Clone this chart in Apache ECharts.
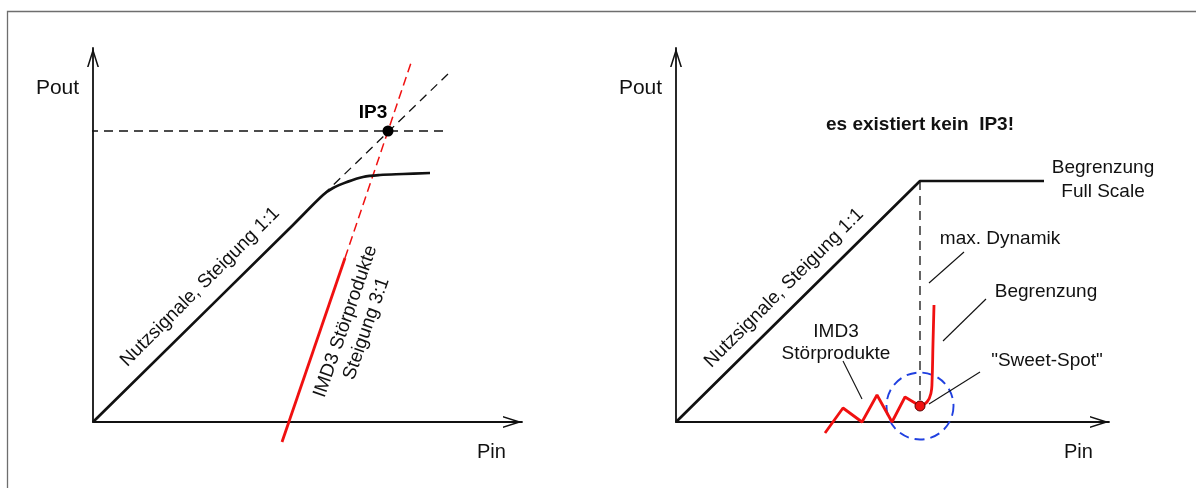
<!DOCTYPE html>
<html><head><meta charset="utf-8">
<script src="https://cdn.jsdelivr.net/npm/echarts@6/dist/echarts.min.js"></script>
<style>html,body{margin:0;padding:0;background:#fff}#c{width:1196px;height:488px}</style>
</head><body><div id="c"></div>
<script>
// ---------- data (arbitrary level units: Pin / Pout) ----------
// Left panel: IP3 construction
const leftSignal      = [[0,0],[20,19.7],[23,22.7],[24,23.4],[25.4,24.0],[27,24.5],[28.7,24.7],[31,24.8],[33.7,24.9]];
const leftSignalExt   = [[23,22.7],[35.7,35.0]];
const leftIp3Level    = [[-1.9,29.1],[35.0,29.1]];
const leftImdSolid    = [[18.9,-2.0],[25.2,16.4]];
const leftImdDashed   = [[25.2,16.4],[31.9,36.2]];
const leftIp3Point    = [[29.5,29.1]];
// Right panel: no IP3
const rightSignal     = [[0,0],[24.4,24.1],[36.8,24.1]];
const rightMaxDyn     = [[24.4,24.1],[24.4,1.6]];
const rightImdZigzag  = [[14.9,-1.1],[16.7,1.4],[18.6,0],[20.1,2.7],[21.6,0],[22.9,2.5],[24.4,1.6]];
const rightImdLimit   = [[24.4,1.6],[25.1,2.0],[25.5,2.9],[25.6,3.9],[25.7,7.9],[25.8,11.7]];
const rightSweetSpot  = [[24.4,1.6]];
const pointerMaxDyn   = [[25.3,13.9],[28.8,17.0]];
const pointerLimit    = [[26.7,8.1],[31.0,12.3]];
const pointerSweet    = [[25.3,1.8],[30.4,5.0]];
const pointerImd      = [[16.7,6.1],[18.6,2.3]];
const axisNames = {x: 'Pin', y: 'Pout'};

// ---------- chart ----------
const FONT = '"Liberation Sans", Arial, Helvetica, sans-serif';
const INK = '#111';
const RED = '#f01010';
const BLUE = '#2040e0';
const ARROW = 'path://M0,19 L6,0 L12,19 L10.4,19 L6,5.1 L1.6,19 Z';

function xAx(max, gi) {
  return {
    type: 'value', gridIndex: gi, min: 0, max: max,
    name: axisNames.x, nameLocation: 'end', nameGap: -45,
    nameTextStyle: {fontSize: 20, color: INK, fontFamily: FONT, verticalAlign: 'top', lineHeight: 60},
    axisLine: {show: true, onZero: false, symbol: ['none', ARROW], symbolSize: [12, 19], symbolOffset: [0, -9.5],
      lineStyle: {color: INK, width: 1.8}},
    axisTick: {show: false}, axisLabel: {show: false}, splitLine: {show: false}
  };
}
function yAx(max, gi) {
  return {
    type: 'value', gridIndex: gi, min: 0, max: max,
    name: axisNames.y, nameLocation: 'end', nameGap: -51,
    nameTextStyle: {fontSize: 21, color: INK, fontFamily: FONT, padding: [0, 71, 0, 0]},
    axisLine: {show: true, onZero: false, symbol: ['none', ARROW], symbolSize: [12, 19], symbolOffset: [0, -9.5],
      lineStyle: {color: INK, width: 1.8}},
    axisTick: {show: false}, axisLabel: {show: false}, splitLine: {show: false}
  };
}
function line(data, gi, color, width, type, smooth, z) {
  return {
    type: 'line', xAxisIndex: gi, yAxisIndex: gi, data: data, showSymbol: false, symbol: 'none',
    clip: false, smooth: smooth || false, z: z || 2, silent: true,
    lineStyle: {color: color, width: width, type: type || 'solid', opacity: 1}
  };
}

const chart = echarts.init(document.getElementById('c'), null, {renderer: 'canvas'});
const txt = (text, x, y, opts) => Object.assign({
  type: 'text', x: x, y: y, z: 50,
  style: Object.assign({text: text, x: 0, y: 0, fill: INK, fontSize: 19, fontFamily: FONT,
    align: 'center', verticalAlign: 'middle', textAlign: 'center', textVerticalAlign: 'middle', lineHeight: 22}, opts && opts.style)
}, opts && opts.el);

chart.setOption({
  animation: false,
  backgroundColor: '#fff',
  grid: [
    {left: 93, top: 48, width: 429, height: 374, containLabel: false},
    {left: 676, top: 48, width: 433, height: 374, containLabel: false}
  ],
  xAxis: [xAx(42.9, 0), xAx(43.3, 1)],
  yAxis: [yAx(37.4, 0), yAx(37.4, 1)],
  series: [
    // left
    line(leftIp3Level, 0, INK, 1.3, [9, 6]),
    line(leftSignalExt, 0, INK, 1.3, [9, 6]),
    line(leftSignal, 0, INK, 2.7, 'solid', 0.35, 4),
    line(leftImdDashed, 0, RED, 1.5, [9, 5]),
    line(leftImdSolid, 0, RED, 2.8, 'solid', false, 4),
    {type: 'scatter', xAxisIndex: 0, yAxisIndex: 0, data: leftIp3Point, symbolSize: 11, z: 6, silent: true,
     itemStyle: {color: '#000', opacity: 1},
     label: {show: true, formatter: 'IP3', position: 'top', offset: [-15, 2], fontSize: 19, fontWeight: 'bold', color: '#000', opacity: 1, fontFamily: FONT}},
    // right
    line(rightSignal, 1, INK, 2.7, 'solid', false, 4),
    line(rightMaxDyn, 1, INK, 1.3, [9, 6]),
    {type: 'scatter', xAxisIndex: 1, yAxisIndex: 1, data: rightSweetSpot, symbolSize: 67, z: 1, silent: true,
     itemStyle: {color: 'rgba(0,0,0,0)', borderColor: BLUE, borderWidth: 1.9, borderType: [10, 6], opacity: 1}},
    line(rightImdZigzag, 1, RED, 2.8, 'solid', false, 4),
    line(rightImdLimit, 1, RED, 2.8, 'solid', 0.5, 4),
    line(pointerMaxDyn, 1, INK, 1.1),
    line(pointerLimit, 1, INK, 1.1),
    line(pointerSweet, 1, INK, 1.1),
    line(pointerImd, 1, INK, 1.1),
    {type: 'scatter', xAxisIndex: 1, yAxisIndex: 1, data: rightSweetSpot, symbolSize: 10, z: 6, silent: true,
     itemStyle: {color: RED, borderColor: '#5a0000', borderWidth: 1, opacity: 1}}
  ],
  graphic: [
    {type: 'rect', z: 0, silent: true, shape: {x: 7.5, y: 11.5, width: 1400, height: 700},
     style: {fill: 'none', stroke: '#6e6e6e', lineWidth: 1.3}},
    txt('Nutzsignale, Steigung 1:1', 200, 287, {el: {rotation: Math.PI / 4}}),
    txt('IMD3 Störprodukte\nSteigung 3:1', 356, 325, {el: {rotation: 70.8 * Math.PI / 180}}),
    txt('Nutzsignale, Steigung 1:1', 784, 288, {el: {rotation: Math.PI / 4}}),
    txt('es existiert kein  IP3!', 920, 125, {style: {fontWeight: 'bold'}}),
    txt('Begrenzung\nFull Scale', 1103, 180, {style: {lineHeight: 24}}),
    txt('max. Dynamik', 1000, 239),
    txt('Begrenzung', 1046, 292),
    txt('"Sweet-Spot"', 1047, 361),
    txt('IMD3\nStörprodukte', 836, 343)
  ]
});
</script></body></html>
